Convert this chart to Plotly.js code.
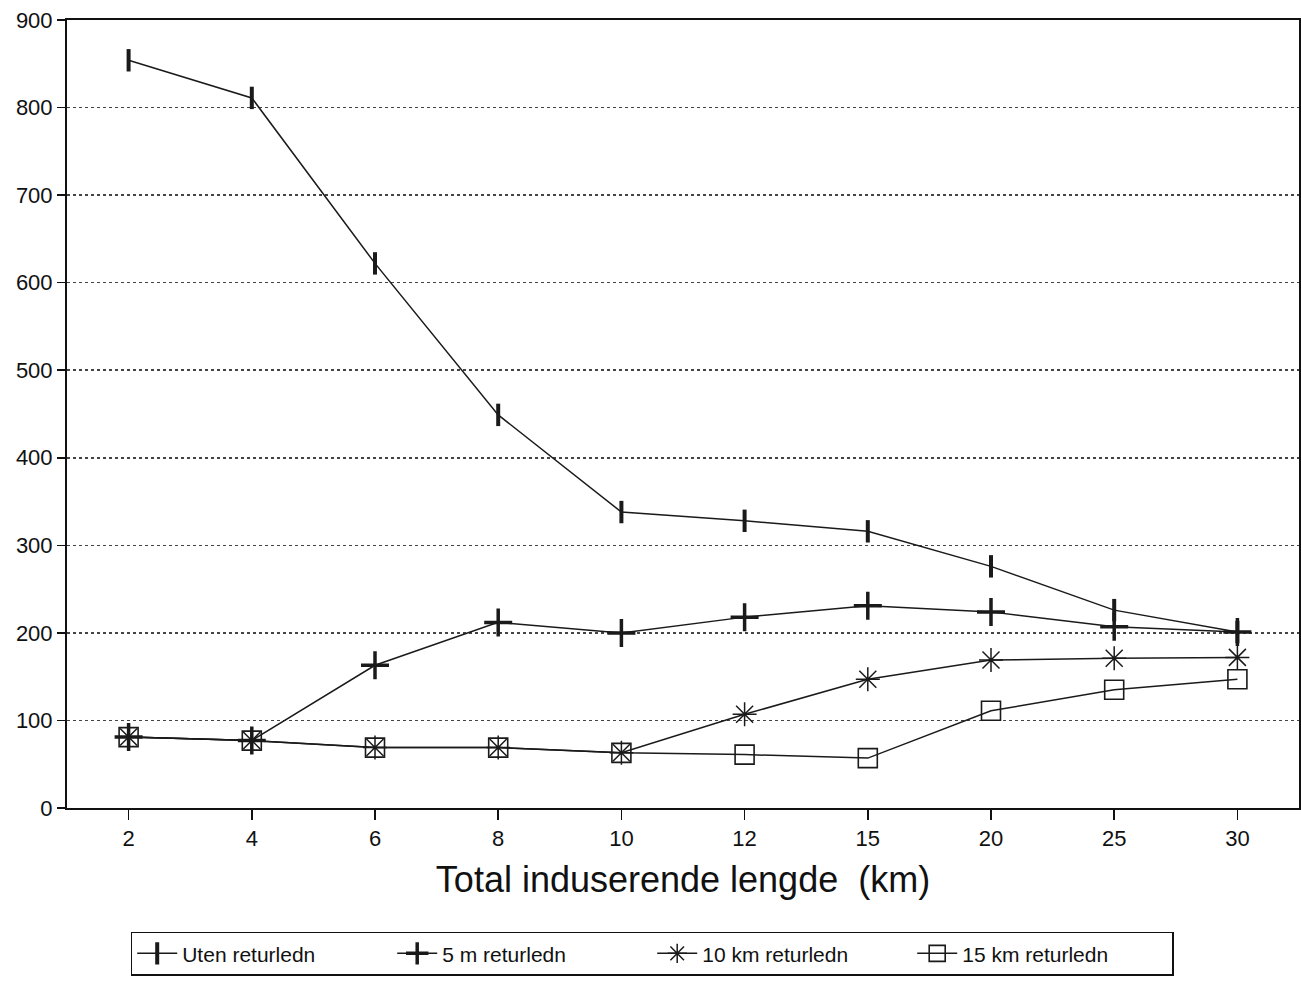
<!DOCTYPE html>
<html>
<head>
<meta charset="utf-8">
<script src="https://cdn.plot.ly/plotly-3.0.1.min.js"></script>
<style>html,body{margin:0;padding:0;background:#fff;}#chart{width:1301px;height:982px;}</style>
</head>
<body>
<div id="chart"></div>
<script>
const categories = ["2", "4", "6", "8", "10", "12", "15", "20", "25", "30"];
const seriesNames = ["Uten returledn", "5 m returledn", "10 km returledn", "15 km returledn"];
const utenReturledn = [854, 811, 622, 449, 338, 328, 316, 276, 226, 201];
const m5Returledn = [81, 77, 163, 212, 200, 218, 231, 224, 207, 201];
const km10Returledn = [81, 77, 69, 69, 63, 107, 147, 169, 171, 172];
const km15Returledn = [81, 77, 69, 69, 63, 61, 57, 111, 135, 147];
const yTicks = [0, 100, 200, 300, 400, 500, 600, 700, 800, 900];

const lineStyle = {color: "#1a1a1a", width: 1.5};
const traces = [
  {x: categories, y: utenReturledn, name: seriesNames[0], mode: "lines+markers", line: lineStyle,
   marker: {symbol: "line-ns", size: 16, line: {color: "#1a1a1a", width: 4}}},
  {x: categories, y: m5Returledn, name: seriesNames[1], mode: "lines+markers", line: lineStyle,
   marker: {symbol: "cross-thin", size: 20, line: {color: "#1a1a1a", width: 3.5}}},
  {x: categories, y: km10Returledn, name: seriesNames[2], mode: "lines+markers", line: lineStyle,
   marker: {symbol: "asterisk-open", size: 20, line: {color: "#1a1a1a", width: 1.5}}},
  {x: categories, y: km15Returledn, name: seriesNames[3], mode: "lines+markers", line: lineStyle,
   marker: {symbol: "square-open", size: 19, color: "#1a1a1a", line: {color: "#1a1a1a", width: 1.6}}}
];

const layout = {
  width: 1301, height: 982,
  margin: {l: 67, r: 2, t: 20, b: 174},
  paper_bgcolor: "#fff", plot_bgcolor: "#fff",
  font: {family: "Liberation Sans, Arial, sans-serif", color: "#111"},
  showlegend: true,
  legend: {orientation: "h", x: 0.475, xanchor: "center", y: -0.157, yanchor: "top",
           bordercolor: "#111", borderwidth: 1.5, font: {size: 21, color: "#111"},
           itemwidth: 40, entrywidth: 205, entrywidthmode: "pixels",
           traceorder: "normal", tracegroupgap: 0},
  xaxis: {
    type: "category", range: [-0.5, 9.5],
    showline: true, linecolor: "#111", linewidth: 2, mirror: true,
    ticks: "outside", ticklen: 10, tickwidth: 1.5, tickcolor: "#111",
    showgrid: false, zeroline: false,
    tickfont: {size: 22, color: "#111"},
    title: {text: "Total induserende lengde  (km)", font: {size: 36, color: "#111"}, standoff: 16}
  },
  yaxis: {
    range: [0, 900], tickvals: yTicks,
    showline: true, linecolor: "#111", linewidth: 2, mirror: true,
    ticks: "outside", ticklen: 8, tickwidth: 1.5, tickcolor: "#111",
    showgrid: true, gridcolor: "#444", gridwidth: 1.5, griddash: "dot",
    zeroline: false,
    tickfont: {size: 22, color: "#111"}
  }
};

Plotly.newPlot("chart", traces, layout, {displayModeBar: false, staticPlot: true});
</script>
</body>
</html>
